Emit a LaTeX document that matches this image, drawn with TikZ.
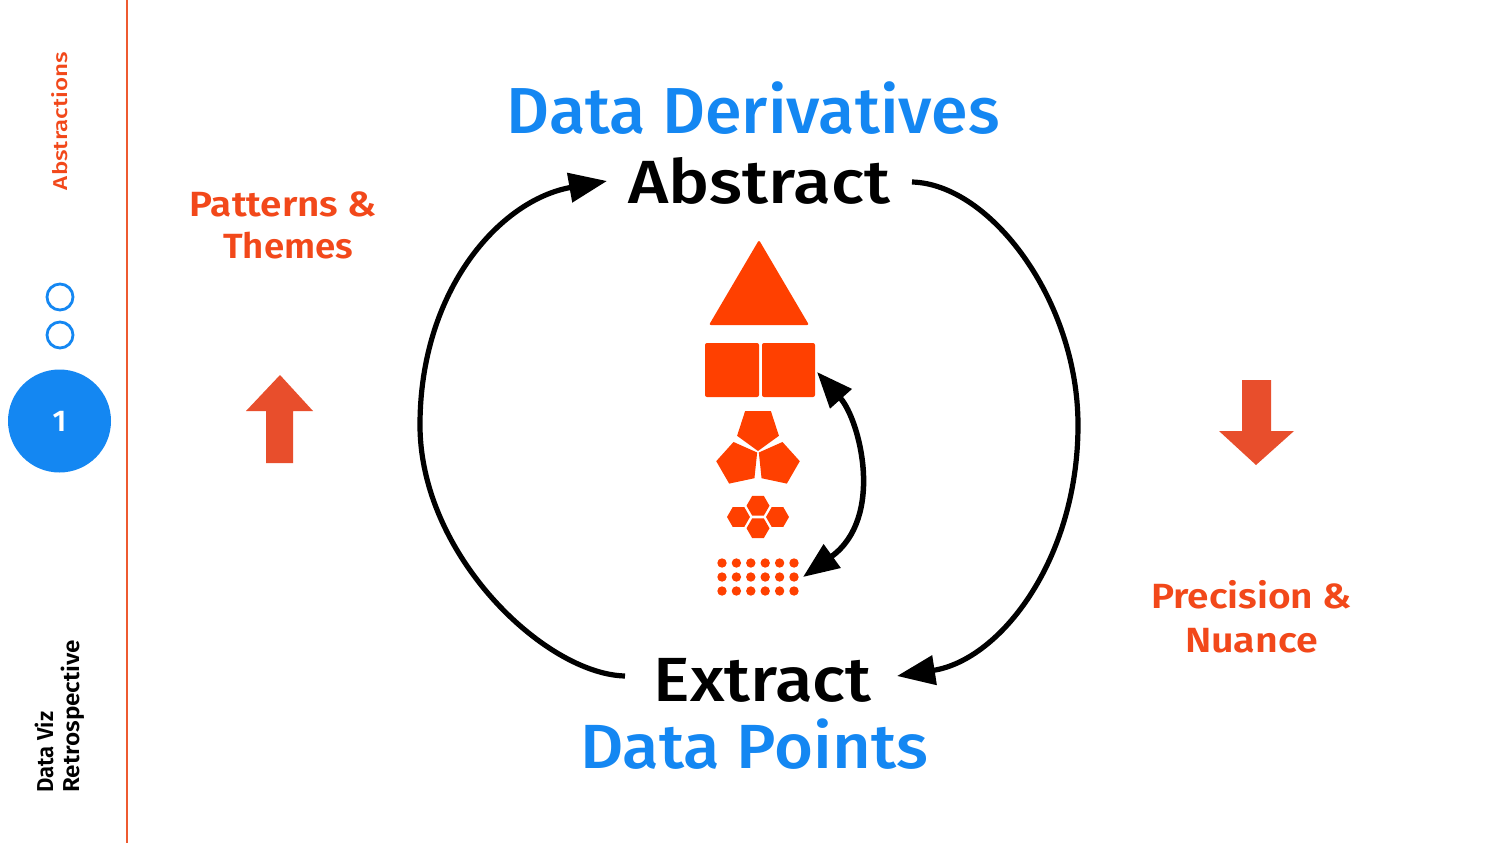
\documentclass[tikz,border=0pt]{standalone}
\usepackage{fontspec}
\usepackage{graphicx}
\usetikzlibrary{arrows.meta,shapes.geometric}
\newfontfamily\medfont{Fira Sans Medium}
\newfontfamily\semifont{Fira Sans SemiBold}
\newfontfamily\regfont{Fira Sans}
\newcommand\fitw[2]{\resizebox{#1}{\height}{#2}}
\definecolor{shapeor}{HTML}{FF4000}
\definecolor{textor}{HTML}{F2481A}
\definecolor{arrowor}{HTML}{E84E2C}
\definecolor{lineor}{HTML}{EE5A30}
\definecolor{vizblue}{HTML}{1487F2}
\begin{document}
\begin{tikzpicture}[x=1pt,y=1pt,
  bluetitle/.style={inner sep=0, anchor=base, text=vizblue},
  blacktitle/.style={inner sep=0, anchor=base, text=black},
  orlabel/.style={inner sep=0, anchor=base, text=textor, font=\semifont\fontsize{35}{35}\selectfont},
  loopline/.style={line width=5.2pt, draw=black, -{Triangle[length=38pt,width=29pt]}},
  dblline/.style={line width=5.5pt, draw=black, {Triangle[length=36pt,width=28pt]}-{Triangle[length=36pt,width=28pt]}},
  poly/.style={regular polygon, inner sep=0, outer sep=0, fill=shapeor, draw=none},
  ring/.style={circle, draw=vizblue, line width=2.8pt, minimum size=26pt, inner sep=0}
]
\useasboundingbox (0,0) rectangle (1500,-843);
\fill[white] (0,0) rectangle (1500,-843);

% sidebar
\draw[lineor, line width=1.8pt] (127,0) -- (127,-843);
\node[inner sep=0, anchor=base, rotate=90, text=textor, font=\medfont\fontsize{20}{20}\selectfont] (abs) at (67,-121) {\fitw{138pt}{Abstractions}};
\node[ring] (r1) at (60,-297) {};
\node[ring] (r2) at (60,-335) {};
\node[circle, fill=vizblue, minimum size=103pt, inner sep=0, text=white, font=\semifont\fontsize{30}{30}\selectfont] (one) at (59.5,-421) {1};
\node[inner sep=0, anchor=base west, rotate=90, text=black, font=\semifont\fontsize{23}{23}\selectfont] (dv) at (53,-793) {\fitw{81pt}{Data Viz}};
\node[inner sep=0, anchor=base west, rotate=90, text=black, font=\semifont\fontsize{23}{23}\selectfont] (rs) at (79,-793) {\fitw{153pt}{Retrospective}};

% side labels
\node[orlabel] (pat1) at (283.4,-216) {\fitw{187pt}{Patterns \&}};
\node[orlabel] (pat2) at (288.3,-258.3) {\fitw{130pt}{Themes}};
\node[orlabel] (pre1) at (1251.5,-608) {\fitw{201pt}{Precision \&}};
\node[orlabel] (pre2) at (1251.5,-652) {\fitw{133pt}{Nuance}};

% up / down arrows
\fill[arrowor] (280,-375) -- (313,-411) -- (293,-411) -- (293,-463) -- (266,-463) -- (266,-411) -- (246,-411) -- cycle;
\fill[arrowor] (1256,-465) -- (1294,-431) -- (1271,-431) -- (1271,-380) -- (1242,-380) -- (1242,-431) -- (1219,-431) -- cycle;

% titles
\node[bluetitle, font=\medfont\fontsize{65}{65}\selectfont] (dd) at (753.3,-133.3) {\fitw{493pt}{Data Derivatives}};
\node[blacktitle, font=\medfont\fontsize{61}{61}\selectfont] (ab) at (759,-203.3) {\fitw{262pt}{Abstract}};
\node[blacktitle, font=\medfont\fontsize{62.4}{62.4}\selectfont] (ex) at (762.5,-701.7) {\fitw{218pt}{Extract}};
\node[bluetitle, font=\medfont\fontsize{62.4}{62.4}\selectfont] (dp) at (754,-768.3) {\fitw{348pt}{Data Points}};

% loop arrows
\coordinate (lstart) at (625,-676);
\coordinate (lmid) at (420,-425);
\coordinate (lend) at (607,-181);
\coordinate (rstart) at (912,-182);
\coordinate (rmid) at (1078,-425);
\coordinate (rend) at (897,-676);
\draw[loopline] (lstart) .. controls (545,-674) and (420,-555) .. (lmid)
   .. controls (420,-290) and (500,-200) .. (lend);
\draw[loopline] (rstart) .. controls (990,-184) and (1078,-300) .. (rmid)
   .. controls (1078,-560) and (1000,-660) .. (rend);

% shapes
\fill[shapeor, rounded corners=2pt] (759,-240) -- (809,-325) -- (709,-325) -- cycle;
\fill[shapeor, rounded corners=2pt] (705,-343) rectangle (759,-397);
\fill[shapeor, rounded corners=2pt] (762,-343) rectangle (815,-397);
\node[poly, regular polygon sides=5, minimum size=44pt, rotate=180] (p1) at (758,-429) {};
\node[poly, regular polygon sides=5, minimum size=44pt, rotate=-60] (p2) at (738.1,-463.5) {};
\node[poly, regular polygon sides=5, minimum size=44pt, rotate=60] (p3) at (777.9,-463.5) {};
\node[poly, regular polygon sides=6, minimum size=23pt] (h1) at (758,-505.75) {};
\node[poly, regular polygon sides=6, minimum size=23pt] (h2) at (758,-528.25) {};
\node[poly, regular polygon sides=6, minimum size=23pt] (h3) at (738.5,-517) {};
\node[poly, regular polygon sides=6, minimum size=23pt] (h4) at (777.5,-517) {};
\foreach \i in {0,...,5}{
  \foreach \j in {0,1,2}{
    \fill[shapeor] (722+14.4*\i,-563-14*\j) circle (4.7pt);
  }
}

% double arrow
\coordinate (sq) at (817,-372);
\coordinate (dt) at (803,-577);
\draw[dblline] (sq) .. controls (860,-420) and (885,-518) .. (dt);
\end{tikzpicture}
\end{document}
